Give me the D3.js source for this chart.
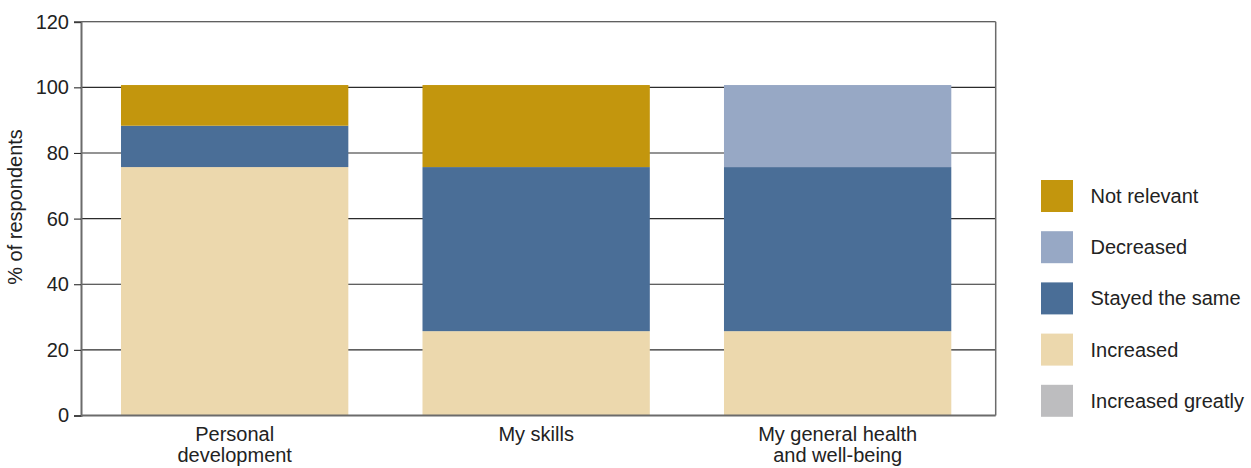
<!DOCTYPE html>
<html>
<head>
<meta charset="utf-8">
<script src="https://cdn.jsdelivr.net/npm/d3@7"></script>
<style>
  html, body { margin: 0; padding: 0; background: #fff; }
  svg { display: block; font-family: "Liberation Sans", Arial, sans-serif; }
</style>
</head>
<body>
<div id="chart"></div>
<script>
// data
const categories = [
  ["Personal", "development"],
  ["My skills"],
  ["My general health", "and well-being"]
];
const seriesNames = ["Increased greatly", "Increased", "Stayed the same", "Decreased", "Not relevant"];
const increasedGreatly = [0, 0, 0];
const increased = [75.7, 25.7, 25.7];
const stayedSame = [12.6, 50, 50];
const decreased = [0, 0, 25];
const notRelevant = [12.4, 25, 0];
const yTicks = [0, 20, 40, 60, 80, 100, 120];
const legendOrder = ["Not relevant", "Decreased", "Stayed the same", "Increased", "Increased greatly"];

(() => {
  const colors = {
    "Not relevant": "#c3960d",
    "Decreased": "#97a8c5",
    "Stayed the same": "#4a6e97",
    "Increased": "#ecd8ad",
    "Increased greatly": "#bdbdbf"
  };

  const width = 1251, height = 468;
  const margin = { top: 21.7, left: 81, right: 255.3, bottom: 52.5 };
  const innerW = width - margin.left - margin.right;
  const innerH = height - margin.top - margin.bottom;

  const rows = categories.map((c, i) => ({
    key: c.join(" "),
    lines: c,
    "Increased greatly": increasedGreatly[i],
    "Increased": increased[i],
    "Stayed the same": stayedSame[i],
    "Decreased": decreased[i],
    "Not relevant": notRelevant[i]
  }));

  const svg = d3.select("#chart").append("svg")
    .attr("width", width)
    .attr("height", height);

  const g = svg.append("g").attr("transform", `translate(${margin.left},${margin.top})`);

  const x = d3.scaleBand()
    .domain(rows.map(d => d.key))
    .range([0, innerW])
    .paddingInner(0.246)
    .paddingOuter(0.14)
    .align(0.474);

  const y = d3.scaleLinear().domain([0, 120]).range([innerH, 0]);

  // grid
  g.append("g")
    .selectAll("line")
    .data(yTicks.filter(t => t > 0))
    .enter().append("line")
    .attr("x1", 0).attr("x2", innerW)
    .attr("y1", d => y(d)).attr("y2", d => y(d))
    .attr("stroke", "#2b2b2b")
    .attr("stroke-width", 1.1);

  // bars
  const stack = d3.stack().keys(seriesNames)(rows);
  g.append("g")
    .selectAll("g")
    .data(stack)
    .enter().append("g")
    .attr("fill", d => colors[d.key])
    .selectAll("rect")
    .data(d => d)
    .enter().append("rect")
    .attr("x", d => x(d.data.key))
    .attr("width", x.bandwidth())
    .attr("y", d => y(d[1]))
    .attr("height", d => y(d[0]) - y(d[1]));

  // right frame
  g.append("line")
    .attr("x1", innerW).attr("x2", innerW)
    .attr("y1", 0).attr("y2", innerH)
    .attr("stroke", "#6b6b6b").attr("stroke-width", 1.5);

  // y axis
  g.append("g")
    .call(d3.axisLeft(y).tickValues(yTicks).tickSize(7).tickPadding(5))
    .call(s => s.select(".domain").attr("stroke", "#6b6b6b").attr("stroke-width", 2))
    .call(s => s.selectAll(".tick line").attr("stroke", "#2b2b2b").attr("stroke-width", 1.1))
    .call(s => s.selectAll("text")
      .attr("fill", "#222")
      .style("font-size", "20px")
      .style("font-family", "'Liberation Sans', Arial, sans-serif"));

  // bottom axis line
  g.append("line")
    .attr("x1", 0).attr("x2", innerW)
    .attr("y1", innerH).attr("y2", innerH)
    .attr("stroke", "#6b6b6b").attr("stroke-width", 2);

  // category labels
  const cat = g.append("g").selectAll("text")
    .data(rows)
    .enter().append("text")
    .attr("x", d => x(d.key) + x.bandwidth() / 2)
    .attr("y", innerH + 26)
    .attr("text-anchor", "middle")
    .attr("fill", "#222")
    .style("font-size", "20px");
  cat.selectAll("tspan")
    .data(d => d.lines)
    .enter().append("tspan")
    .attr("x", function () { return d3.select(this.parentNode).attr("x"); })
    .attr("dy", (d, i) => i === 0 ? 0 : 21)
    .text(d => d);

  // y label
  svg.append("text")
    .attr("transform", `translate(22,207) rotate(-90)`)
    .attr("text-anchor", "middle")
    .attr("fill", "#222")
    .style("font-size", "20px")
    .text("% of respondents");

  // legend
  const legend = svg.append("g").attr("transform", "translate(1041,180)");
  const item = legend.selectAll("g")
    .data(legendOrder)
    .enter().append("g")
    .attr("transform", (d, i) => `translate(0,${i * 51.2})`);
  item.append("rect")
    .attr("width", 32).attr("height", 32)
    .attr("fill", d => colors[d]);
  item.append("text")
    .attr("x", 49.5)
    .attr("y", 16)
    .attr("dy", "0.35em")
    .attr("fill", "#222")
    .style("font-size", "20px")
    .text(d => d);
})();
</script>
</body>
</html>
